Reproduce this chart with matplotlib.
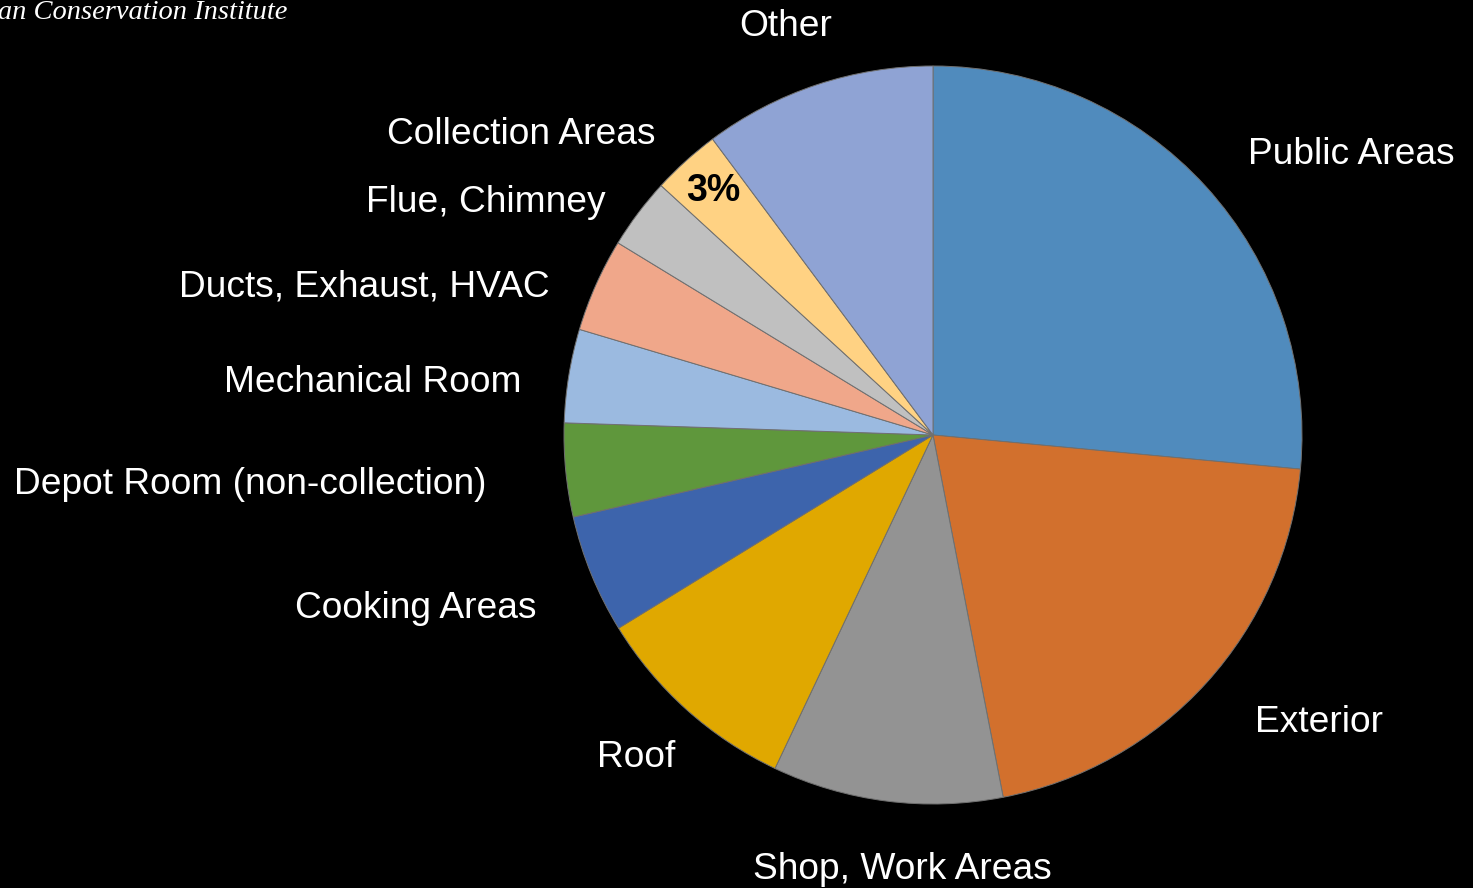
import matplotlib
matplotlib.use("Agg")
import matplotlib.pyplot as plt

# slices, clockwise from 12 o'clock
categories = ['Public Areas', 'Exterior', 'Shop, Work Areas', 'Roof', 'Cooking Areas',
              'Depot Room (non-collection)', 'Mechanical Room', 'Ducts, Exhaust, HVAC',
              'Flue, Chimney', 'Collection Areas', 'Other']
shares = [26.5, 20.5, 10.1, 9.2, 5.2, 4.1, 4.1, 4.1, 3.1, 3.0, 10.2]
colors = ['#508BBD', '#D2702D', '#939393', '#E0A800', '#3D64AC', '#5F973C',
          '#9BBAE0', '#F0A78A', '#C0C0C0', '#FFD283', '#8FA3D4']
shown_pct = {'Collection Areas': '3%'}

W, H = 1473, 888
fig = plt.figure(figsize=(W / 100, H / 100), dpi=100, facecolor='black')
ax = fig.add_axes([0, 0, 1, 1])
ax.set_facecolor('black')

cx, cy, r = 933, H - 435, 369
wedges, _ = ax.pie(shares, colors=colors, startangle=90, counterclock=False,
                   center=(cx, cy), radius=r,
                   wedgeprops=dict(edgecolor='#707070', linewidth=0.7))
ax.set_xlim(0, W)
ax.set_ylim(0, H)
ax.set_aspect('equal')
ax.axis('off')

# label positions in pixels (center x, center y from top)
label_pos = {
    'Public Areas': (1351, 154),
    'Exterior': (1319, 722),
    'Shop, Work Areas': (902, 869),
    'Roof': (636, 757),
    'Cooking Areas': (416, 608),
    'Depot Room (non-collection)': (250, 484),
    'Mechanical Room': (373, 383),
    'Ducts, Exhaust, HVAC': (364, 287),
    'Flue, Chimney': (486, 203),
    'Collection Areas': (521, 134),
    'Other': (786, 27),
}
for name in categories:
    x, y = label_pos[name]
    ax.text(x, H - y, name, color='white', fontsize=26.7, family='Liberation Sans',
            ha='center', va='center')

for name, txt in shown_pct.items():
    ax.text(713, H - 191, txt, color='black', fontsize=27, fontweight='bold',
            family='Liberation Sans', ha='center', va='center')

# header line, cut off at the left edge as in the slide
ax.text(287, H - 13, 'Canadian Conservation Institute', color='white', fontsize=20.5,
        family='Liberation Serif', style='italic', ha='right', va='center')

fig.savefig('out.png', dpi=100, facecolor='black')
